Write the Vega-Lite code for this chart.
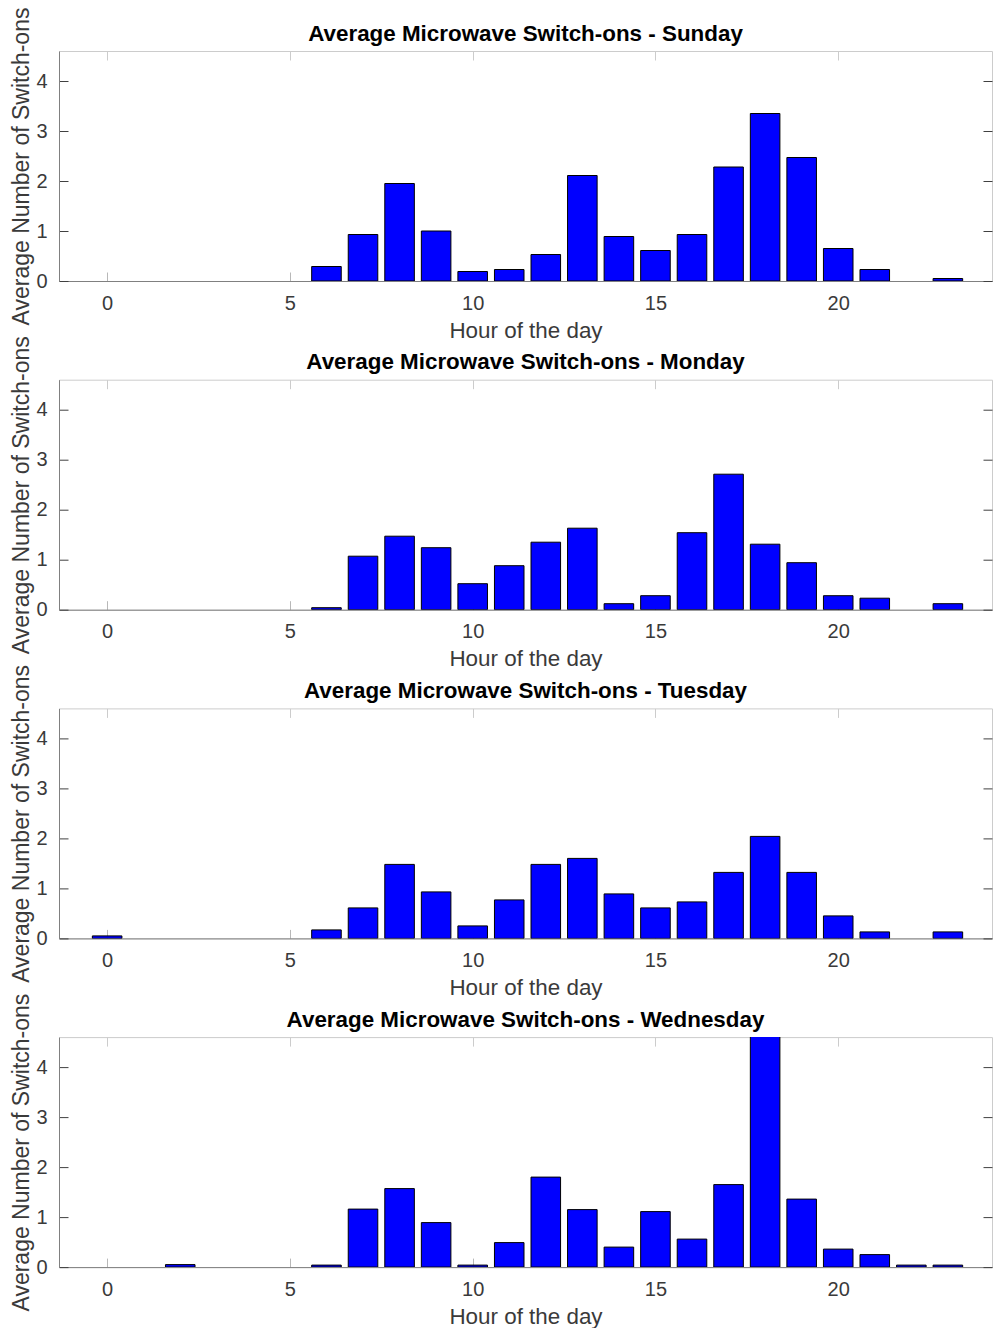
{
  "$schema": "https://vega.github.io/schema/vega-lite/v6.json",
  "background": "white",
  "padding": {"left": 10, "top": 6, "right": 0, "bottom": 0},
  "config": {
    "font": "Liberation Sans",
    "view": {"stroke": "#cccccc", "strokeWidth": 1},
    "title": {"font": "Liberation Sans", "fontSize": 22.4, "fontWeight": "bold", "color": "#000000", "anchor": "middle", "baseline": "alphabetic", "offset": -38},
    "axis": {"labelFont": "Liberation Sans", "titleFont": "Liberation Sans", "labelFontSize": 20, "titleFontSize": 22.4, "titleFontWeight": "normal", "labelColor": "#3a3a3a", "titleColor": "#3a3a3a", "grid": false},
    "axisBottom": {"tickSize": -9, "tickColor": "#b8b8b8", "domainColor": "#808080", "labelPadding": 21, "titlePadding": 6},
    "axisLeft": {"tickSize": -9, "tickColor": "#404040", "domainColor": "#808080", "labelPadding": 21, "titlePadding": 2, "titleFontSize": 23},
    "axisTop": {"labels": false, "domain": false, "tickSize": -9, "tickColor": "#cccccc"},
    "axisRight": {"labels": false, "domain": false, "tickSize": -9, "tickColor": "#404040"}
  },
  "datasets": {
    "switchons": [
      {"day": "Sunday", "hour": 0, "avg": 0}, {"day": "Sunday", "hour": 1, "avg": 0}, {"day": "Sunday", "hour": 2, "avg": 0}, {"day": "Sunday", "hour": 3, "avg": 0},
      {"day": "Sunday", "hour": 4, "avg": 0}, {"day": "Sunday", "hour": 5, "avg": 0}, {"day": "Sunday", "hour": 6, "avg": 0.29}, {"day": "Sunday", "hour": 7, "avg": 0.93},
      {"day": "Sunday", "hour": 8, "avg": 1.95}, {"day": "Sunday", "hour": 9, "avg": 1.0}, {"day": "Sunday", "hour": 10, "avg": 0.19}, {"day": "Sunday", "hour": 11, "avg": 0.23},
      {"day": "Sunday", "hour": 12, "avg": 0.53}, {"day": "Sunday", "hour": 13, "avg": 2.11}, {"day": "Sunday", "hour": 14, "avg": 0.89}, {"day": "Sunday", "hour": 15, "avg": 0.61},
      {"day": "Sunday", "hour": 16, "avg": 0.93}, {"day": "Sunday", "hour": 17, "avg": 2.28}, {"day": "Sunday", "hour": 18, "avg": 3.35}, {"day": "Sunday", "hour": 19, "avg": 2.47},
      {"day": "Sunday", "hour": 20, "avg": 0.65}, {"day": "Sunday", "hour": 21, "avg": 0.23}, {"day": "Sunday", "hour": 22, "avg": 0}, {"day": "Sunday", "hour": 23, "avg": 0.05},

      {"day": "Monday", "hour": 0, "avg": 0}, {"day": "Monday", "hour": 1, "avg": 0}, {"day": "Monday", "hour": 2, "avg": 0}, {"day": "Monday", "hour": 3, "avg": 0},
      {"day": "Monday", "hour": 4, "avg": 0}, {"day": "Monday", "hour": 5, "avg": 0}, {"day": "Monday", "hour": 6, "avg": 0.04}, {"day": "Monday", "hour": 7, "avg": 1.07},
      {"day": "Monday", "hour": 8, "avg": 1.47}, {"day": "Monday", "hour": 9, "avg": 1.24}, {"day": "Monday", "hour": 10, "avg": 0.52}, {"day": "Monday", "hour": 11, "avg": 0.88},
      {"day": "Monday", "hour": 12, "avg": 1.35}, {"day": "Monday", "hour": 13, "avg": 1.63}, {"day": "Monday", "hour": 14, "avg": 0.12}, {"day": "Monday", "hour": 15, "avg": 0.28},
      {"day": "Monday", "hour": 16, "avg": 1.54}, {"day": "Monday", "hour": 17, "avg": 2.71}, {"day": "Monday", "hour": 18, "avg": 1.31}, {"day": "Monday", "hour": 19, "avg": 0.94},
      {"day": "Monday", "hour": 20, "avg": 0.28}, {"day": "Monday", "hour": 21, "avg": 0.23}, {"day": "Monday", "hour": 22, "avg": 0}, {"day": "Monday", "hour": 23, "avg": 0.12},

      {"day": "Tuesday", "hour": 0, "avg": 0.05}, {"day": "Tuesday", "hour": 1, "avg": 0}, {"day": "Tuesday", "hour": 2, "avg": 0}, {"day": "Tuesday", "hour": 3, "avg": 0},
      {"day": "Tuesday", "hour": 4, "avg": 0}, {"day": "Tuesday", "hour": 5, "avg": 0}, {"day": "Tuesday", "hour": 6, "avg": 0.17}, {"day": "Tuesday", "hour": 7, "avg": 0.61},
      {"day": "Tuesday", "hour": 8, "avg": 1.48}, {"day": "Tuesday", "hour": 9, "avg": 0.93}, {"day": "Tuesday", "hour": 10, "avg": 0.25}, {"day": "Tuesday", "hour": 11, "avg": 0.77},
      {"day": "Tuesday", "hour": 12, "avg": 1.48}, {"day": "Tuesday", "hour": 13, "avg": 1.6}, {"day": "Tuesday", "hour": 14, "avg": 0.89}, {"day": "Tuesday", "hour": 15, "avg": 0.61},
      {"day": "Tuesday", "hour": 16, "avg": 0.73}, {"day": "Tuesday", "hour": 17, "avg": 1.32}, {"day": "Tuesday", "hour": 18, "avg": 2.04}, {"day": "Tuesday", "hour": 19, "avg": 1.32},
      {"day": "Tuesday", "hour": 20, "avg": 0.45}, {"day": "Tuesday", "hour": 21, "avg": 0.13}, {"day": "Tuesday", "hour": 22, "avg": 0}, {"day": "Tuesday", "hour": 23, "avg": 0.13},

      {"day": "Wednesday", "hour": 0, "avg": 0}, {"day": "Wednesday", "hour": 1, "avg": 0}, {"day": "Wednesday", "hour": 2, "avg": 0.05}, {"day": "Wednesday", "hour": 3, "avg": 0},
      {"day": "Wednesday", "hour": 4, "avg": 0}, {"day": "Wednesday", "hour": 5, "avg": 0}, {"day": "Wednesday", "hour": 6, "avg": 0.04}, {"day": "Wednesday", "hour": 7, "avg": 1.16},
      {"day": "Wednesday", "hour": 8, "avg": 1.57}, {"day": "Wednesday", "hour": 9, "avg": 0.89}, {"day": "Wednesday", "hour": 10, "avg": 0.04}, {"day": "Wednesday", "hour": 11, "avg": 0.49},
      {"day": "Wednesday", "hour": 12, "avg": 1.8}, {"day": "Wednesday", "hour": 13, "avg": 1.15}, {"day": "Wednesday", "hour": 14, "avg": 0.4}, {"day": "Wednesday", "hour": 15, "avg": 1.11},
      {"day": "Wednesday", "hour": 16, "avg": 0.56}, {"day": "Wednesday", "hour": 17, "avg": 1.65}, {"day": "Wednesday", "hour": 18, "avg": 4.75}, {"day": "Wednesday", "hour": 19, "avg": 1.36},
      {"day": "Wednesday", "hour": 20, "avg": 0.36}, {"day": "Wednesday", "hour": 21, "avg": 0.25}, {"day": "Wednesday", "hour": 22, "avg": 0.04}, {"day": "Wednesday", "hour": 23, "avg": 0.04}
    ]
  },
  "data": {"name": "switchons"},
  "bounds": "flush",
  "spacing": 98.7,
  "vconcat": [
    {
      "title": "Average Microwave Switch-ons - Sunday",
      "width": 933, "height": 230,
      "transform": [{"filter": "datum.day === 'Sunday'"}],
      "layer": [
        {
          "mark": {"type": "bar", "width": 29.56, "fill": "#0000ff", "stroke": "#000000", "clip": true},
          "encoding": {
            "x": {"field": "hour", "type": "quantitative", "scale": {"domain": [-1.18, 24.07], "nice": false, "zero": false}, "axis": {"orient": "bottom", "values": [0, 5, 10, 15, 20], "title": "Hour of the day"}},
            "y": {"field": "avg", "type": "quantitative", "scale": {"domain": [0, 4.6], "nice": false}, "axis": {"orient": "left", "values": [0, 1, 2, 3, 4], "title": "Average Number of Switch-ons"}},
            "strokeWidth": {"condition": {"test": "datum.avg > 0", "value": 1}, "value": 0}
          }
        },
        {
          "mark": {"type": "point", "opacity": 0, "clip": true},
          "encoding": {
            "x": {"field": "hour", "type": "quantitative", "axis": {"orient": "top", "values": [0, 5, 10, 15, 20], "title": null}},
            "y": {"field": "avg", "type": "quantitative", "axis": {"orient": "right", "values": [0, 1, 2, 3, 4], "title": null}}
          }
        }
      ],
      "resolve": {"axis": {"x": "independent", "y": "independent"}}
    },
    {
      "title": "Average Microwave Switch-ons - Monday",
      "width": 933, "height": 230,
      "transform": [{"filter": "datum.day === 'Monday'"}],
      "layer": [
        {
          "mark": {"type": "bar", "width": 29.56, "fill": "#0000ff", "stroke": "#000000", "clip": true},
          "encoding": {
            "x": {"field": "hour", "type": "quantitative", "scale": {"domain": [-1.18, 24.07], "nice": false, "zero": false}, "axis": {"orient": "bottom", "values": [0, 5, 10, 15, 20], "title": "Hour of the day"}},
            "y": {"field": "avg", "type": "quantitative", "scale": {"domain": [0, 4.6], "nice": false}, "axis": {"orient": "left", "values": [0, 1, 2, 3, 4], "title": "Average Number of Switch-ons"}},
            "strokeWidth": {"condition": {"test": "datum.avg > 0", "value": 1}, "value": 0}
          }
        },
        {
          "mark": {"type": "point", "opacity": 0, "clip": true},
          "encoding": {
            "x": {"field": "hour", "type": "quantitative", "axis": {"orient": "top", "values": [0, 5, 10, 15, 20], "title": null}},
            "y": {"field": "avg", "type": "quantitative", "axis": {"orient": "right", "values": [0, 1, 2, 3, 4], "title": null}}
          }
        }
      ],
      "resolve": {"axis": {"x": "independent", "y": "independent"}}
    },
    {
      "title": "Average Microwave Switch-ons - Tuesday",
      "width": 933, "height": 230,
      "transform": [{"filter": "datum.day === 'Tuesday'"}],
      "layer": [
        {
          "mark": {"type": "bar", "width": 29.56, "fill": "#0000ff", "stroke": "#000000", "clip": true},
          "encoding": {
            "x": {"field": "hour", "type": "quantitative", "scale": {"domain": [-1.18, 24.07], "nice": false, "zero": false}, "axis": {"orient": "bottom", "values": [0, 5, 10, 15, 20], "title": "Hour of the day"}},
            "y": {"field": "avg", "type": "quantitative", "scale": {"domain": [0, 4.6], "nice": false}, "axis": {"orient": "left", "values": [0, 1, 2, 3, 4], "title": "Average Number of Switch-ons"}},
            "strokeWidth": {"condition": {"test": "datum.avg > 0", "value": 1}, "value": 0}
          }
        },
        {
          "mark": {"type": "point", "opacity": 0, "clip": true},
          "encoding": {
            "x": {"field": "hour", "type": "quantitative", "axis": {"orient": "top", "values": [0, 5, 10, 15, 20], "title": null}},
            "y": {"field": "avg", "type": "quantitative", "axis": {"orient": "right", "values": [0, 1, 2, 3, 4], "title": null}}
          }
        }
      ],
      "resolve": {"axis": {"x": "independent", "y": "independent"}}
    },
    {
      "title": "Average Microwave Switch-ons - Wednesday",
      "width": 933, "height": 230,
      "transform": [{"filter": "datum.day === 'Wednesday'"}],
      "layer": [
        {
          "mark": {"type": "bar", "width": 29.56, "fill": "#0000ff", "stroke": "#000000", "clip": true},
          "encoding": {
            "x": {"field": "hour", "type": "quantitative", "scale": {"domain": [-1.18, 24.07], "nice": false, "zero": false}, "axis": {"orient": "bottom", "values": [0, 5, 10, 15, 20], "title": "Hour of the day"}},
            "y": {"field": "avg", "type": "quantitative", "scale": {"domain": [0, 4.6], "nice": false}, "axis": {"orient": "left", "values": [0, 1, 2, 3, 4], "title": "Average Number of Switch-ons"}},
            "strokeWidth": {"condition": {"test": "datum.avg > 0", "value": 1}, "value": 0}
          }
        },
        {
          "mark": {"type": "point", "opacity": 0, "clip": true},
          "encoding": {
            "x": {"field": "hour", "type": "quantitative", "axis": {"orient": "top", "values": [0, 5, 10, 15, 20], "title": null}},
            "y": {"field": "avg", "type": "quantitative", "axis": {"orient": "right", "values": [0, 1, 2, 3, 4], "title": null}}
          }
        }
      ],
      "resolve": {"axis": {"x": "independent", "y": "independent"}}
    }
  ]
}
